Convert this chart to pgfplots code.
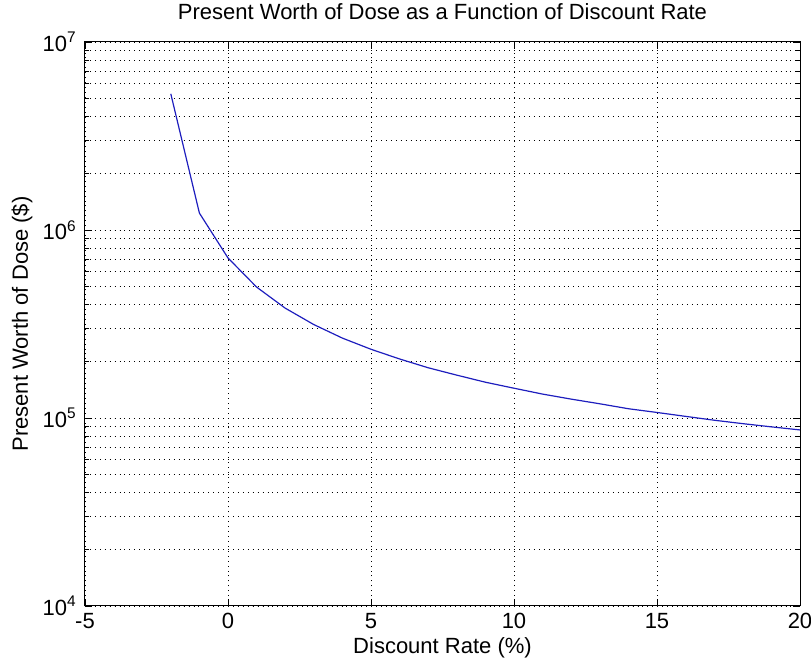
\documentclass[border=0pt]{standalone}
\usepackage{fontspec}
\setmainfont{Liberation Sans}
\usepackage{pgfplots}
\pgfplotsset{compat=1.18}
\definecolor{curveblue}{RGB}{30,30,190}

\begin{document}
\begin{tikzpicture}[font=\fontsize{16.5pt}{19pt}\selectfont]
\useasboundingbox (0,0) rectangle (608.25pt,500.25pt);
\begin{semilogyaxis}[
    at={(63.75pt,45.75pt)}, anchor=south west,
    scale only axis,
    width=536.25pt, height=423pt,
    xmin=-5, xmax=20,
    ymin=1e4, ymax=1e7,
    xtick={-5,0,5,10,15,20},
    ytick={1e4,1e5,1e6,1e7},
    yticklabels={10\textsuperscript{4},10\textsuperscript{5},10\textsuperscript{6},10\textsuperscript{7}},
    /pgf/number format/assume math mode=true,
    tick label style={font=\fontsize{16.5pt}{19pt}\selectfont},
    label style={font=\fontsize{16.5pt}{19pt}\selectfont},
    every axis title shift=0pt,
    title style={font=\fontsize{16.5pt}{19pt}\selectfont},
    tick align=inside,
    major tick length=5pt,
    minor tick length=3pt,
    axis line style={line width=0.75pt},
    every tick/.style={line width=0.6pt, black},
    xmajorgrids, ymajorgrids, yminorgrids,
    grid style={line width=0.7pt, dash pattern=on 0.7pt off 3pt, black},
    title={Present Worth of Dose as a Function of Discount Rate},
    title style={at={(axis description cs:0.5,1.0532)}, anchor=center, yshift=0pt},
    xlabel={Discount Rate (\%)},
    xlabel style={at={(axis description cs:0.5,-0.0691)}, anchor=center, yshift=-2pt},
    ylabel={Present Worth of Dose (\$)},
    ylabel style={at={(axis description cs:-0.088,0.5)}, anchor=center, yshift=0pt},
    xticklabel style={yshift=-2pt},
    yticklabel style={xshift=-3pt},
]
\addplot[curveblue, line width=0.9pt] coordinates {
(-2,5.3e6) (-1,1.23e6) (0,7.10e5) (1,4.97e5) (2,3.84e5) (3,3.14e5)
(4,2.66e5) (5,2.32e5) (6,2.06e5) (7,1.85e5) (8,1.69e5) (9,1.55e5)
(10,1.44e5) (11,1.34e5) (12,1.26e5) (13,1.19e5) (14,1.12e5) (15,1.07e5)
(16,1.02e5) (17,9.73e4) (18,9.33e4) (19,8.97e4) (20,8.64e4)
};
\end{semilogyaxis}
\end{tikzpicture}
\end{document}
